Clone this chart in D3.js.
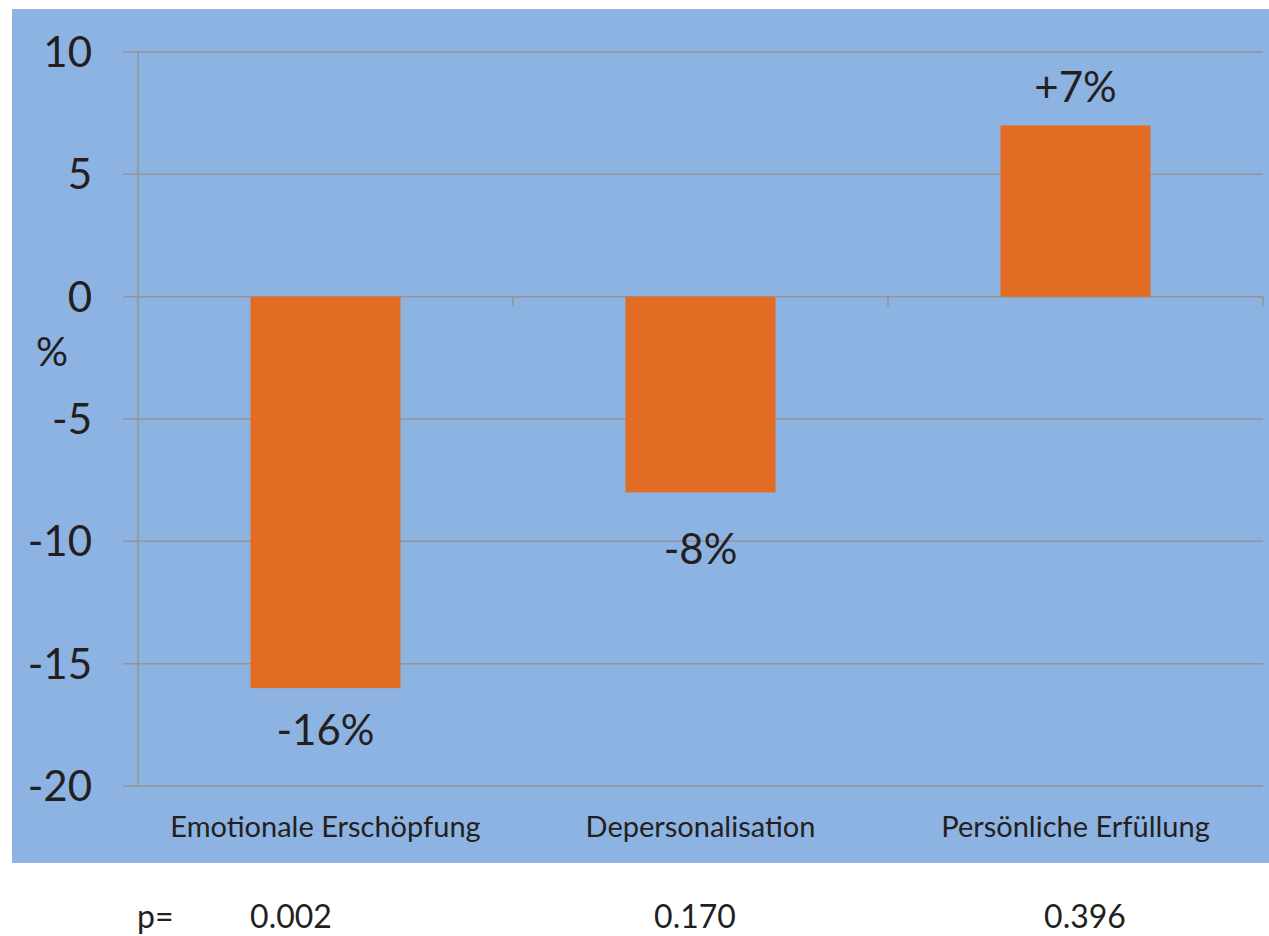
<!DOCTYPE html>
<html>
<head>
<meta charset="utf-8">
<script src="https://cdn.jsdelivr.net/npm/d3@7"></script>
<style>
  html, body { margin: 0; padding: 0; background: #ffffff; }
  svg { display: block; }
  text { font-family: Lato, "Open Sans", sans-serif; fill: #231f20; }
</style>
</head>
<body>
<script>
// Change in burnout dimensions (percent)
const categories = ["Emotionale Erschöpfung", "Depersonalisation", "Persönliche Erfüllung"];
const values = [-16, -8, 7];
const valueLabels = ["-16%", "-8%", "+7%"];
const pValues = ["0.002", "0.170", "0.396"];
const yTicks = [10, 5, 0, -5, -10, -15, -20];

const W = 1269, H = 936;
const panel = { x: 12, y: 9, w: 1257, h: 854 };
const plot = { left: 138, right: 1263, top: 52, bottom: 786 };

const svg = d3.select("body").append("svg")
  .attr("width", W).attr("height", H);

svg.append("rect")
  .attr("x", panel.x).attr("y", panel.y)
  .attr("width", panel.w).attr("height", panel.h)
  .attr("fill", "#8db3e2");

const y = d3.scaleLinear().domain([-20, 10]).range([plot.bottom, plot.top]);
const x = d3.scaleBand().domain(categories)
  .range([plot.left, plot.right])
  .paddingInner(0.6).paddingOuter(0.3);
const step = x.step();

const gridColor = "#959595";

// horizontal gridlines with left tick marks
svg.append("g").selectAll("line").data(yTicks).join("line")
  .attr("x1", plot.left - 15).attr("x2", plot.right)
  .attr("y1", d => y(d)).attr("y2", d => y(d))
  .attr("stroke", gridColor).attr("stroke-width", 1.5);

// vertical axis line
svg.append("line")
  .attr("x1", plot.left).attr("x2", plot.left)
  .attr("y1", y(10)).attr("y2", y(-20))
  .attr("stroke", gridColor).attr("stroke-width", 1.5);

// category separators on the zero line
const seps = categories.map((c, i) => plot.left + (i + 1) * step);
svg.append("g").selectAll("line").data(seps).join("line")
  .attr("x1", d => d).attr("x2", d => d)
  .attr("y1", y(0)).attr("y2", y(0) + 10)
  .attr("stroke", gridColor).attr("stroke-width", 1.5);

// y tick labels
svg.append("g").selectAll("text").data(yTicks).join("text")
  .attr("x", 92).attr("y", d => y(d))
  .attr("dy", "0.36em")
  .attr("text-anchor", "end")
  .attr("font-size", 42)
  .text(d => d);

svg.append("text")
  .attr("x", 52).attr("y", 352).attr("dy", "0.36em")
  .attr("text-anchor", "middle").attr("font-size", 40)
  .text("%");

// bars
svg.append("g").selectAll("rect").data(values).join("rect")
  .attr("x", (d, i) => x(categories[i]))
  .attr("width", x.bandwidth())
  .attr("y", d => y(Math.max(0, d)))
  .attr("height", d => Math.abs(y(d) - y(0)))
  .attr("fill", "#e36c25");

// value labels, offset from the bar end
const labelOffsets = [42, 56, -39];
svg.append("g").selectAll("text").data(values).join("text")
  .attr("x", (d, i) => x(categories[i]) + x.bandwidth() / 2)
  .attr("y", (d, i) => y(d) + labelOffsets[i])
  .attr("dy", "0.36em")
  .attr("text-anchor", "middle").attr("font-size", 42)
  .text((d, i) => valueLabels[i]);

// category labels
svg.append("g").selectAll("text").data(categories).join("text")
  .attr("x", d => x(d) + x.bandwidth() / 2)
  .attr("y", 827).attr("dy", "0.36em")
  .attr("text-anchor", "middle").attr("font-size", 29)
  .text(d => d);

// p-values row
svg.append("text")
  .attr("x", 137).attr("y", 916).attr("dy", "0.36em")
  .attr("font-size", 32).text("p=");
const pX = [291, 695, 1085];
svg.append("g").selectAll("text").data(pValues).join("text")
  .attr("x", (d, i) => pX[i]).attr("y", 916).attr("dy", "0.36em")
  .attr("text-anchor", "middle").attr("font-size", 32)
  .text(d => d);
</script>
</body>
</html>
